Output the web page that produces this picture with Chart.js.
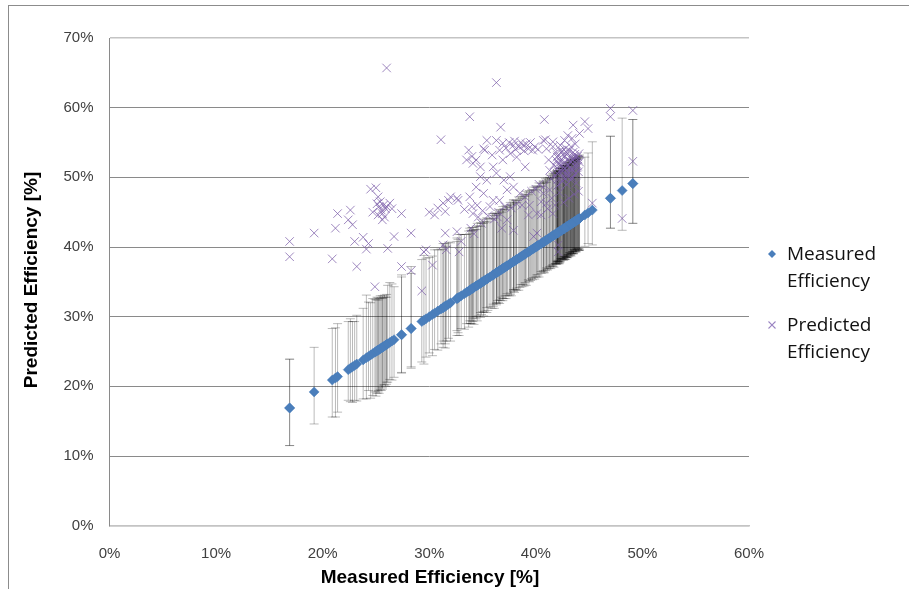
<!DOCTYPE html>
<html>
<head>
<meta charset="utf-8">
<script src="https://cdn.jsdelivr.net/npm/chart.js@4.4.1/dist/chart.umd.min.js"></script>
<style>
  html, body { margin: 0; padding: 0; background: #fff; overflow: hidden; }
  #wrap { position: relative; width: 909px; height: 589px; }
  #frame { position: absolute; left: 8px; top: 5px; width: 1000px; height: 1000px;
           border-left: 1px solid #8c8c8c; border-top: 1px solid #8c8c8c; pointer-events: none; }
  .axisTitle { position: absolute; font-family: 'Liberation Sans', Arial, sans-serif; font-weight: bold;
               font-size: 19px; color: #000; white-space: nowrap; }
  #xTitle { left: 430px; top: 577px; transform: translate(-50%, -50%); }
  #yTitle { left: 31px; top: 280px; transform: translate(-50%, -50%) rotate(-90deg); }
  .legText { position: absolute; left: 787px; font-family: 'Open Sans', sans-serif; font-size: 19px;
             line-height: 27px; color: #111; white-space: nowrap; }
  .legMark { position: absolute; }
</style>
</head>
<body>
<div id="wrap">
  <canvas id="chart" width="909" height="589"></canvas>
  <div id="frame"></div>
  <div id="xTitle" class="axisTitle">Measured Efficiency [%]</div>
  <div id="yTitle" class="axisTitle">Predicted Efficiency [%]</div>
  <svg class="legMark" style="left:766px;top:248px" width="12" height="12"><polygon points="6,2 10,6 6,10 2,6" fill="#4A7EBB"/></svg>
  <div class="legText" style="top:240px">Measured<br>Efficiency</div>
  <svg class="legMark" style="left:766px;top:319px" width="12" height="12"><path d="M2.5,2.5 L9.5,9.5 M9.5,2.5 L2.5,9.5" stroke="#9a84c2" stroke-width="1.1"/></svg>
  <div class="legText" style="top:311px">Predicted<br>Efficiency</div>
</div>
<script>
// Measured efficiency [%] of each sample (also the x position of its prediction)
const measured = [
  16.9, 16.9, 19.2, 20.9, 21.2, 21.4, 22.4, 22.6, 22.8, 23.0,
  23.2, 23.8, 24.1, 24.3, 24.5, 24.7, 24.9, 25.0, 25.1, 25.2,
  25.2, 25.3, 25.4, 25.5, 25.6, 25.6, 25.7, 25.8, 25.9, 26.0,
  26.0, 26.1, 26.3, 26.5, 26.7, 27.4, 27.4, 28.3, 28.3, 29.3,
  29.5, 29.7, 30.0, 30.3, 30.5, 30.8, 31.1, 31.3, 31.3, 31.5,
  31.5, 31.6, 31.8, 32.0, 32.6, 32.7, 32.6, 32.8, 33.0, 33.3,
  33.5, 33.7, 33.8, 33.8, 33.9, 34.0, 34.0, 34.1, 34.1, 34.2,
  34.4, 34.4, 34.5, 34.6, 34.8, 34.8, 34.9, 35.0, 35.1, 35.1,
  35.2, 35.4, 35.4, 35.5, 35.7, 35.9, 36.0, 36.0, 36.1, 36.3,
  36.3, 36.3, 36.4, 36.5, 36.6, 36.6, 36.7, 36.8, 36.9, 36.9,
  37.0, 37.1, 37.2, 37.3, 37.3, 37.5, 37.6, 37.6, 37.7, 37.9,
  37.9, 37.9, 38.0, 38.1, 38.2, 38.2, 38.4, 38.5, 38.6, 38.7,
  38.8, 38.9, 39.0, 39.0, 39.1, 39.3, 39.3, 39.4, 39.5, 39.6,
  39.7, 39.8, 39.9, 40.0, 40.1, 40.1, 40.2, 40.3, 40.5, 40.5,
  40.7, 40.7, 40.7, 40.8, 40.9, 41.0, 41.0, 41.1, 41.2, 41.3,
  41.3, 41.4, 41.5, 41.6, 41.6, 41.6, 41.7, 41.8, 41.9, 42.0,
  42.0, 42.0, 42.0, 42.1, 42.1, 42.1, 42.2, 42.2, 42.3, 42.3,
  42.4, 42.5, 42.6, 42.6, 42.6, 42.7, 42.7, 42.8, 42.8, 42.9,
  42.9, 43.0, 43.0, 43.1, 43.1, 43.2, 43.2, 43.3, 43.3, 43.4,
  43.4, 43.5, 43.5, 43.5, 43.6, 43.6, 43.7, 43.7, 43.8, 43.8,
  43.9, 44.0, 44.0, 44.1, 44.1, 44.6, 44.9, 45.3, 47.0, 47.0,
  48.1, 49.1, 49.1,
  41.85, 41.95, 42.05, 42.15, 42.25, 42.35, 42.45, 42.55, 42.65, 42.75,
  42.85, 42.95, 43.05, 43.15, 43.25, 43.35, 43.45, 43.55, 43.65, 43.75,
  43.85, 43.95, 44.05, 42.02, 42.48, 42.92, 43.28, 43.62, 43.92, 42.68
];

// Predicted efficiency [%] for the same samples
const predicted = [
  40.8, 38.6, 42.0, 38.3, 42.7, 44.8, 43.9, 45.3, 43.2, 40.8,
  37.2, 41.4, 39.7, 40.5, 48.3, 45.0, 34.3, 48.5, 46.2, 44.6,
  47.2, 45.8, 46.5, 45.3, 43.9, 44.8, 46.0, 44.3, 45.5, 45.8,
  65.7, 39.8, 46.3, 45.5, 41.5, 44.8, 37.2, 36.6, 42.0, 33.7,
  39.3, 39.6, 45.0, 37.4, 44.6, 45.6, 55.4, 46.3, 40.3, 45.1,
  42.0, 39.6, 46.7, 47.2, 47.0, 46.7, 42.2, 39.3, 40.8, 45.4,
  52.5, 53.9, 58.7, 47.2, 42.7, 53.0, 45.8, 52.0, 44.8, 41.9,
  52.5, 48.6, 46.0, 44.3, 51.5, 50.1, 43.4, 45.2, 54.1, 47.7,
  53.9, 55.3, 49.6, 44.5, 45.8, 53.2, 51.5, 46.7, 44.0, 55.3,
  50.6, 63.6, 44.3, 45.0, 53.9, 46.7, 57.2, 42.7, 54.9, 52.5,
  49.6, 45.8, 54.2, 48.2, 43.9, 55.0, 53.4, 50.1, 45.6, 54.6,
  48.6, 42.4, 55.2, 54.0, 52.9, 46.2, 54.4, 47.7, 55.0, 46.0,
  54.6, 53.8, 51.5, 47.2, 54.8, 54.1, 44.6, 46.0, 55.0, 48.0,
  53.9, 41.5, 54.4, 48.3, 44.8, 42.0, 54.0, 49.0, 44.6, 46.5,
  55.3, 48.6, 47.7, 58.3, 55.4, 54.1, 46.3, 45.5, 52.5, 51.0,
  48.2, 49.8, 47.0, 55.1, 54.4, 44.8, 51.8, 46.0, 53.6, 52.9,
  50.6, 49.6, 51.3, 52.0, 40.3, 39.3, 47.8, 50.8, 53.9, 54.6,
  52.6, 49.4, 51.5, 50.1, 46.4, 55.3, 53.0, 50.6, 54.2, 52.5,
  49.0, 56.0, 53.4, 50.2, 47.0, 51.5, 52.8, 49.6, 54.4, 55.6,
  51.0, 57.5, 52.5, 53.6, 50.4, 47.6, 51.6, 54.8, 52.0, 49.2,
  53.0, 50.8, 48.0, 56.3, 52.2, 58.0, 57.0, 46.3, 59.9, 58.7,
  44.1, 59.6, 52.3,
  50.2, 52.4, 53.1, 49.0, 51.7, 52.2, 50.9, 53.3, 52.0, 51.2,
  53.6, 50.4, 51.8, 53.9, 52.3, 51.2, 50.0, 52.8, 53.3, 50.6,
  51.4, 52.6, 53.4, 48.8, 53.8, 51.0, 52.2, 53.0, 51.6, 49.9
];

// Error bar extent below each measured point [% points]
const errMinus = [
  5.4, 5.4, 4.6, 5.3, 5.6, 5.1, 4.4, 4.8, 5.1, 5.0,
  5.3, 5.6, 5.9, 4.9, 6.2, 6.0, 5.7, 6.4, 6.1, 6.0,
  5.8, 6.3, 5.9, 6.1, 5.8, 6.0, 5.5, 5.6, 5.9, 5.4,
  5.7, 5.5, 5.3, 5.6, 5.4, 5.5, 5.4, 5.7, 5.5, 5.8,
  6.3, 5.5, 5.2, 5.9, 5.2, 5.6, 5.0, 5.7, 4.8, 5.4,
  6.0, 5.1, 4.9, 5.5, 5.3, 5.0, 4.6, 5.5, 4.7, 5.1,
  4.5, 5.2, 4.8, 4.4, 4.9, 4.6, 5.0, 4.3, 4.8, 5.3,
  4.7, 4.4, 5.1, 4.5, 4.2, 4.9, 4.6, 4.3, 5.0, 4.5,
  4.4, 4.8, 4.1, 4.6, 4.3, 4.7, 4.2, 4.5, 4.9, 4.4,
  4.6, 4.3, 4.1, 4.5, 4.2, 4.7, 4.4, 4.0, 4.6, 4.3,
  4.4, 4.1, 4.6, 4.3, 4.0, 4.5, 4.2, 4.4, 4.7, 4.1,
  4.3, 4.0, 4.5, 4.2, 4.4, 4.1, 4.6, 4.3, 4.0, 4.4,
  4.2, 4.5, 4.1, 4.3, 4.6, 4.2, 4.0, 4.4, 4.3, 4.1,
  4.4, 4.2, 4.5, 4.3, 4.1, 4.4, 4.2, 4.6, 4.3, 4.0,
  4.2, 4.4, 4.1, 4.5, 4.3, 4.2, 4.0, 4.4, 4.3, 4.1,
  4.3, 4.5, 4.2, 4.4, 4.1, 4.3, 4.6, 4.2, 4.4, 4.0,
  4.3, 4.1, 4.4, 4.2, 4.5, 4.0, 4.3, 4.6, 4.2, 4.4,
  4.1, 4.3, 4.5, 4.2, 4.0, 4.4, 4.1, 4.3, 4.6, 4.2,
  4.4, 4.1, 4.3, 4.5, 4.2, 4.0, 4.4, 4.2, 4.6, 4.3,
  4.1, 4.4, 4.2, 4.5, 4.3, 4.0, 4.4, 4.2, 4.5, 4.1,
  4.3, 4.5, 4.2, 4.4, 4.6, 4.5, 4.4, 5.0, 4.3, 4.3,
  5.7, 5.7, 5.7,
  4.2, 4.4, 4.1, 4.3, 4.5, 4.0, 4.3, 4.2, 4.4, 4.1,
  4.3, 4.5, 4.2, 4.0, 4.4, 4.3, 4.1, 4.5, 4.2, 4.4,
  4.0, 4.3, 4.5, 4.2, 4.1, 4.4, 4.3, 4.0, 4.2, 4.5
];

// Error bar extent above each measured point [% points]
const errPlus = [
  7.0, 7.0, 6.4, 7.4, 7.2, 7.6, 6.9, 7.1, 6.5, 6.3,
  7.0, 7.4, 9.0, 7.8, 7.5, 7.9, 7.6, 7.4, 7.7, 7.2,
  7.5, 7.3, 7.6, 7.2, 7.0, 7.4, 7.1, 7.3, 6.9, 7.2,
  6.8, 8.4, 8.6, 8.2, 7.6, 8.3, 8.6, 7.9, 8.9, 8.9,
  9.3, 8.7, 8.5, 8.4, 9.1, 8.8, 8.6, 9.2, 8.3, 8.8,
  9.0, 8.5, 8.9, 8.6, 8.2, 8.4, 8.7, 9.0, 8.8, 8.5,
  8.3, 8.6, 8.9, 8.1, 8.5, 8.4, 8.8, 8.2, 8.7, 8.3,
  8.6, 8.1, 8.9, 8.4, 8.2, 8.7, 8.5, 9.0, 8.3, 8.6,
  8.4, 8.8, 8.2, 8.6, 8.3, 8.9, 8.5, 8.1, 8.7, 8.4,
  8.2, 8.6, 8.4, 8.8, 8.3, 8.5, 8.7, 8.2, 8.9, 8.4,
  8.5, 8.3, 8.7, 8.4, 8.6, 8.2, 8.8, 8.5, 8.3, 8.9,
  8.4, 8.7, 8.3, 8.6, 8.5, 8.2, 8.8, 8.4, 8.6, 8.3,
  8.7, 8.4, 8.6, 8.3, 8.9, 8.5, 8.2, 8.7, 8.4, 8.6,
  8.5, 8.8, 8.3, 8.6, 8.4, 8.7, 8.5, 8.9, 8.2, 8.6,
  8.8, 8.5, 8.7, 8.4, 8.9, 8.6, 8.3, 8.8, 8.5, 8.7,
  8.6, 8.9, 8.4, 8.7, 9.0, 8.5, 8.8, 8.6, 8.9, 8.7,
  8.8, 9.0, 8.6, 8.9, 8.7, 8.5, 9.1, 8.8, 8.6, 9.0,
  8.9, 8.7, 9.1, 8.8, 8.6, 9.0, 8.8, 8.9, 8.7, 9.2,
  8.8, 9.0, 8.7, 9.1, 8.9, 8.6, 9.0, 8.8, 9.2, 8.9,
  9.0, 8.8, 9.1, 8.7, 8.9, 9.0, 8.6, 9.2, 8.8, 9.0,
  8.9, 8.7, 9.0, 8.8, 9.1, 8.3, 8.6, 9.8, 8.9, 8.9,
  10.4, 9.2, 9.2,
  8.7, 9.0, 8.8, 9.1, 8.6, 8.9, 9.2, 8.7, 9.0, 8.8,
  9.1, 8.9, 8.7, 9.0, 9.2, 8.8, 8.6, 9.1, 8.9, 9.0,
  8.8, 9.2, 8.9, 8.7, 9.0, 8.8, 9.1, 8.9, 8.6, 9.0
];

// Axis ranges and tick spacing [%]
const xRange = [0, 60];
const yRange = [0, 70];
const tickStep = 10;

const measuredPoints = measured.map(m => ({ x: m, y: m }));
const predictedPoints = measured.map((m, i) => ({ x: m, y: predicted[i] }));

// Vertical error bars with caps, drawn through the chart scales underneath the markers
const errorBars = {
  id: 'errorBars',
  beforeDatasetsDraw(chart) {
    const { ctx, chartArea, scales } = chart;
    const xs = scales.x, ys = scales.y;
    ctx.save();
    ctx.beginPath();
    ctx.rect(chartArea.left, chartArea.top, chartArea.right - chartArea.left, chartArea.bottom - chartArea.top);
    ctx.clip();
    ctx.strokeStyle = 'rgba(0,0,0,0.27)';
    ctx.lineWidth = 1;
    const cap = 4.5;
    measured.forEach((m, i) => {
      const px = xs.getPixelForValue(m);
      const top = ys.getPixelForValue(m + errPlus[i]);
      const bot = ys.getPixelForValue(m - errMinus[i]);
      ctx.beginPath();
      ctx.moveTo(px, top); ctx.lineTo(px, bot);
      ctx.moveTo(px - cap, top); ctx.lineTo(px + cap, top);
      ctx.moveTo(px - cap, bot); ctx.lineTo(px + cap, bot);
      ctx.stroke();
    });
    ctx.restore();
  }
};

const tickFont = { family: "'Liberation Sans', Arial, sans-serif", size: 15 };
const tickColor = '#404040';

new Chart(document.getElementById('chart'), {
  type: 'scatter',
  data: {
    datasets: [
      {
        label: 'Measured Efficiency',
        data: measuredPoints,
        pointStyle: 'rectRot',
        pointRadius: 5,
        backgroundColor: '#4A7EBB',
        borderColor: '#4A7EBB',
        borderWidth: 0.5
      },
      {
        label: 'Predicted Efficiency',
        data: predictedPoints,
        pointStyle: 'crossRot',
        pointRadius: 6,
        borderColor: 'rgba(122,92,168,0.72)',
        backgroundColor: 'rgba(122,92,168,0.72)',
        borderWidth: 1
      }
    ]
  },
  options: {
    responsive: false,
    devicePixelRatio: 1,
    animation: false,
    events: [],
    layout: { padding: { left: 0, top: 38, right: 160, bottom: 0 } },
    plugins: { legend: { display: false }, tooltip: { enabled: false } },
    scales: {
      x: {
        type: 'linear',
        min: xRange[0], max: xRange[1],
        ticks: { stepSize: tickStep, callback: v => v + '%', font: tickFont, color: tickColor, padding: 19, maxRotation: 0 },
        grid: { display: false, drawTicks: false },
        border: { display: true, color: '#c4c4c4', width: 1.5 },
        afterFit: axis => { axis.height = 63.3; }
      },
      y: {
        type: 'linear',
        min: yRange[0], max: yRange[1],
        ticks: { stepSize: tickStep, callback: v => v + '%', font: tickFont, color: tickColor, padding: 16 },
        grid: {
          drawTicks: false,
          color: c => (c.tick && (c.tick.value === 70 || c.tick.value === 0)) ? '#c4c4c4' : '#8a8a8a',
          lineWidth: c => (c.tick && (c.tick.value === 70 || c.tick.value === 0)) ? 1.5 : 1
        },
        border: { display: true, color: '#8a8a8a', width: 1 },
        afterFit: axis => { axis.width = 109.5; }
      }
    }
  },
  plugins: [errorBars]
});
</script>
</body>
</html>
